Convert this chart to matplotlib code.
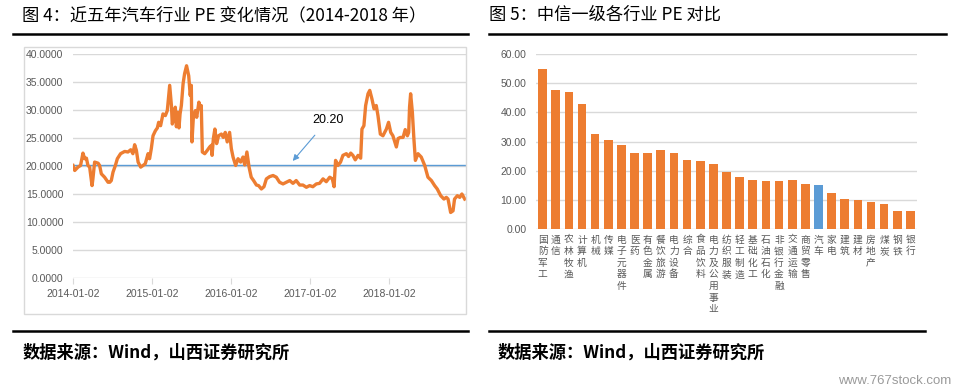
import numpy as np
import pandas as pd
import matplotlib
matplotlib.use("Agg")
import matplotlib.pyplot as plt
from matplotlib.patches import Rectangle
from matplotlib.lines import Line2D

plt.rcParams['font.family'] = ['Noto Sans CJK SC', 'DejaVu Sans']

# 图4 数据: 距 2014-01-02 的天数, PE
days = [0, 8, 23, 35, 46, 54, 62, 69, 77, 88, 92, 100, 116, 123, 131, 146, 162, 170, 177, 185,
        196, 205, 220, 239, 254, 267, 277, 285, 293, 301, 313, 324, 334, 347, 354, 362, 370, 381, 390, 396,
        405, 416, 427, 436, 447, 455, 459, 467, 473, 478, 485, 490, 495, 501, 509, 516, 525, 535, 542, 547,
        550, 556, 566, 572, 582, 590, 593, 598, 609, 621, 632, 640, 643, 649, 656, 664, 673, 686, 695, 704,
        713, 724, 732, 740, 752, 763, 775, 786, 794, 804, 814, 824, 835, 848, 858, 871, 883, 894, 909, 925,
        940, 955, 971, 986, 1002, 1017, 1032, 1048, 1063, 1079, 1094, 1109, 1125, 1140, 1156, 1171, 1187, 1199, 1207, 1214,
        1225, 1237, 1248, 1264, 1274, 1284, 1294, 1305, 1318, 1330, 1336, 1345, 1353, 1364, 1372, 1382, 1392, 1402, 1410, 1421,
        1433, 1449, 1459, 1469, 1479, 1495, 1503, 1513, 1526, 1536, 1546, 1552, 1556, 1561, 1569, 1576, 1583, 1595, 1610, 1626,
        1641, 1657, 1672, 1684, 1700, 1715, 1726, 1734, 1746, 1757, 1764, 1777, 1788, 1798, 1811]
pe = [20.1, 19.2, 19.8, 20.1, 22.3, 21.3, 21.4, 20.1, 19.8, 16.5, 17.7, 20.7, 20.5, 20.1, 18.6, 18.0, 17.1, 17.1, 17.4, 18.9,
      20.1, 21.3, 22.2, 22.6, 22.5, 22.9, 22.2, 23.8, 22.8, 20.7, 19.8, 20.1, 20.4, 22.2, 21.3, 23.1, 25.4, 26.3, 26.8, 27.8,
      27.2, 29.3, 29.0, 29.9, 34.4, 30.8, 27.5, 28.4, 30.5, 27.0, 29.6, 26.8, 29.3, 30.8, 34.7, 36.5, 37.9, 36.1, 32.6, 34.4,
      24.3, 28.4, 29.9, 28.7, 31.4, 30.2, 30.8, 22.5, 22.2, 22.8, 23.4, 23.7, 21.9, 24.9, 26.6, 24.0, 25.4, 25.7, 25.1, 26.0,
      24.3, 26.0, 23.1, 21.6, 20.1, 21.3, 20.7, 21.6, 20.2, 22.5, 19.8, 18.0, 17.4, 16.6, 16.5, 15.9, 16.3, 17.7, 18.1, 18.3,
      18.0, 17.1, 16.8, 17.1, 17.4, 16.9, 17.4, 16.6, 16.6, 16.2, 16.5, 16.3, 16.8, 16.9, 17.7, 17.2, 18.0, 17.7, 16.3, 21.0,
      20.1, 20.7, 21.9, 22.2, 21.7, 22.3, 21.9, 21.1, 21.9, 21.4, 26.6, 27.2, 30.8, 32.9, 33.5, 32.0, 30.2, 30.8, 29.0, 25.7,
      25.4, 26.6, 27.8, 26.0, 25.4, 23.4, 24.9, 25.1, 25.1, 26.5, 25.4, 26.0, 30.5, 32.9, 29.6, 24.9, 21.0, 22.2, 21.6, 20.1,
      18.0, 17.4, 16.5, 15.9, 14.7, 14.1, 14.4, 14.1, 11.7, 12.0, 14.1, 14.7, 14.4, 15.0, 14.1]
pe_avg = 20.20
year_ticks = ["2014-01-02", "2015-01-02", "2016-01-02", "2017-01-02", "2018-01-02"]

# 图5 数据
industries = ["国防军工", "通信", "农林牧渔", "计算机", "机械", "传媒", "电子元器件", "医药", "有色金属", "餐饮旅游",
              "电力设备", "综合", "食品饮料", "电力及公用事业", "纺织服装", "轻工制造", "基础化工", "石油石化",
              "非银行金融", "交通运输", "商贸零售", "汽车", "家电", "建筑", "建材", "房地产", "煤炭", "钢铁", "银行"]
ind_pe = [54.7, 47.5, 47.1, 42.9, 32.6, 30.5, 28.8, 25.9, 26.2, 27.2,
          25.9, 23.8, 23.2, 22.2, 19.5, 17.7, 16.7, 16.5,
          16.3, 16.7, 15.5, 15.1, 12.3, 10.3, 10.1, 9.1, 8.6, 6.3, 6.1]

orange = "#ED7D31"
blue = "#5B9BD5"
grid = "#D9D9D9"
tick_c = "#595959"

fig = plt.figure(figsize=(9.59, 3.92), dpi=100)
W, H = 959.0, 392.0

def fx(px):
    return px / W

def fy(py):
    return 1 - py / H

# titles and rules
fig.text(fx(22), fy(15), "图 4：近五年汽车行业 PE 变化情况（2014-2018 年）", fontsize=12.4, va="center", ha="left")
fig.text(fx(489), fy(15), "图 5：中信一级各行业 PE 对比", fontsize=12.4, va="center", ha="left")
for x0, x1 in [(13, 468), (489, 946)]:
    fig.add_artist(Line2D([fx(x0), fx(x1)], [fy(34), fy(34)], color="black", lw=1.8))
for x0, x1 in [(13, 468), (489, 925)]:
    fig.add_artist(Line2D([fx(x0), fx(x1)], [fy(331), fy(331)], color="black", lw=1.8))
fig.text(fx(23), fy(353), "数据来源：Wind，山西证券研究所", fontsize=12.4, weight="bold", va="center", ha="left")
fig.text(fx(498), fy(353), "数据来源：Wind，山西证券研究所", fontsize=12.4, weight="bold", va="center", ha="left")
fig.text(fx(951), fy(381), "www.767stock.com", fontsize=9.5, color="#9A9A9A", va="center", ha="right",
         family="Liberation Sans")

# left chart frame
fig.add_artist(Rectangle((fx(24), fy(314)), fx(466) - fx(24), fy(47) - fy(314),
                         fill=False, edgecolor=grid, lw=1))

# 图4
ax1 = fig.add_axes([fx(73), fy(278), fx(466) - fx(73), fy(54) - fy(278)])
dates = pd.Timestamp("2014-01-02") + pd.to_timedelta(days, unit="D")
ax1.plot(dates, pe, color=orange, lw=2.4, zorder=3)
ax1.axhline(pe_avg, color=blue, lw=1, zorder=2)
ax1.set_ylim(0, 40)
ax1.set_yticks(np.arange(0, 41, 5))
ax1.set_yticklabels(["%.4f" % v for v in np.arange(0, 41, 5)])
ax1.set_xlim(pd.Timestamp("2014-01-02"), pd.Timestamp("2018-12-24"))
ax1.set_xticks(pd.to_datetime(year_ticks))
ax1.set_xticklabels(year_ticks)
ax1.grid(axis="y", color=grid, lw=1)
ax1.set_axisbelow(True)
for s in ax1.spines.values():
    s.set_visible(False)
ax1.tick_params(axis="y", length=0, pad=7, labelsize=7.5, labelcolor=tick_c)
ax1.tick_params(axis="x", length=4, width=0.8, color=grid, pad=4, labelsize=7.5, labelcolor=tick_c)
for lab in ax1.get_xticklabels() + ax1.get_yticklabels():
    lab.set_family("Liberation Sans")
ax1.annotate("%.2f" % pe_avg,
             xy=(pd.Timestamp("2014-01-02") + pd.Timedelta(days=1016), 20.9),
             xytext=(pd.Timestamp("2014-01-02") + pd.Timedelta(days=1178), 28.2),
             fontsize=9, ha="center", va="center", family="Liberation Sans",
             arrowprops=dict(arrowstyle="-|>", color=blue, lw=0.8, shrinkA=6, shrinkB=0,
                             mutation_scale=9))

# 图5
ax2 = fig.add_axes([fx(536), fy(229), fx(917) - fx(536), fy(54) - fy(229)])
xpos = np.arange(len(industries))
colors = [blue if n == "汽车" else orange for n in industries]
ax2.bar(xpos, ind_pe, width=0.66, color=colors, zorder=3)
ax2.set_xlim(-0.5, len(industries) - 0.5)
ax2.set_ylim(0, 60)
ax2.set_yticks(np.arange(0, 61, 10))
ax2.set_yticklabels(["%.2f" % v for v in np.arange(0, 61, 10)])
ax2.grid(axis="y", color=grid, lw=1)
ax2.set_axisbelow(True)
for s in ax2.spines.values():
    s.set_visible(False)
ax2.set_xticks(xpos)
ax2.set_xticklabels(["\n".join(n) for n in industries], linespacing=1.2, va="top")
ax2.tick_params(axis="y", length=0, pad=7, labelsize=7.5, labelcolor=tick_c)
ax2.tick_params(axis="x", length=0, pad=4, labelsize=7, labelcolor=tick_c)
for lab in ax2.get_yticklabels():
    lab.set_family("Liberation Sans")

fig.savefig("out.png", dpi=100)
